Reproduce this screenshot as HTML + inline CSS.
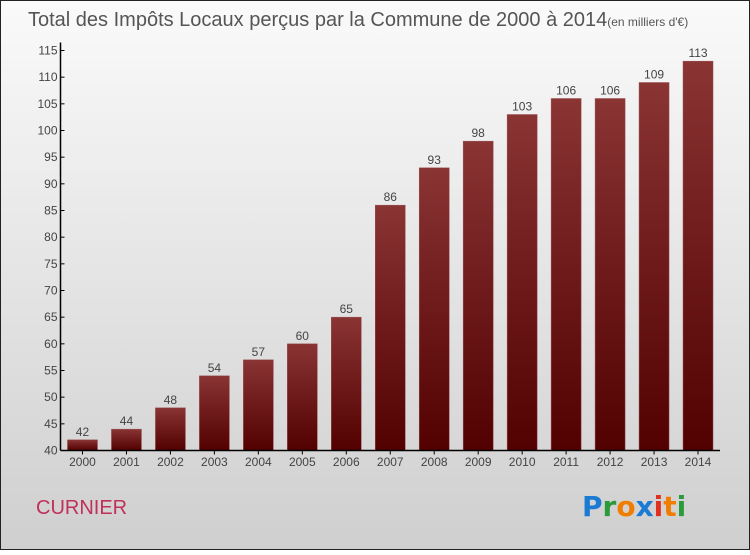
<!DOCTYPE html>
<html><head><meta charset="utf-8"><style>
body{margin:0;width:750px;height:550px;overflow:hidden;font-family:"Liberation Sans",sans-serif}
</style></head><body>
<svg width="750" height="550">
<defs>
<linearGradient id="bg" x1="0" y1="0" x2="0" y2="1"><stop offset="0" stop-color="#fafafa"/><stop offset="1" stop-color="#cfcfcf"/></linearGradient>
<linearGradient id="bar" x1="0" y1="0" x2="0" y2="1"><stop offset="0" stop-color="#8a3434"/><stop offset="1" stop-color="#520000"/></linearGradient>
</defs>
<rect x="0.5" y="0.5" width="749" height="549" fill="url(#bg)" stroke="#222"/>
<text x="28" y="26" font-size="20" fill="#555">Total des Impôts Locaux perçus par la Commune de 2000 à 2014<tspan font-size="12">(en milliers d'€)</tspan></text>
<g id="plot"></g>
<text x="36" y="514" font-size="20" fill="#c0305a">CURNIER</text>
<g font-size="28" font-weight="bold" font-family="DejaVu Sans,sans-serif">
<text x="582" y="516"><tspan fill="#1a7ad4">P</tspan><tspan fill="#2a9a3a">r</tspan><tspan fill="#f07d00">o</tspan><tspan fill="#1a7ad4">x</tspan><tspan fill="#e03020">i</tspan><tspan fill="#f07d00">t</tspan><tspan fill="#2a9a3a">i</tspan></text>
</g>
</svg>
<script>
const years=["2000","2001","2002","2003","2004","2005","2006","2007","2008","2009","2010","2011","2012","2013","2014"];
const values=[42,44,48,54,57,60,65,86,93,98,103,106,106,109,113];
const yTicks=[40,45,50,55,60,65,70,75,80,85,90,95,100,105,110,115];
const NS="http://www.w3.org/2000/svg";
const g=document.getElementById('plot');
const x0=60.5,x1=720,yb=450.5,yt=50.5,ymin=40,ymax=115;
const y=v=>yb-(v-ymin)/(ymax-ymin)*(yb-yt);
const step=(x1-x0)/years.length;
const xc=i=>x0+step*(i+0.5);
function el(t,a,txt){const e=document.createElementNS(NS,t);for(const k in a)e.setAttribute(k,a[k]);if(txt!=null)e.textContent=txt;g.appendChild(e);return e;}
values.forEach((v,i)=>{
 const r=el('rect',{x:xc(i)-15,y:y(v),width:30,height:yb-y(v),fill:'url(#bar)',stroke:'#9a5050','stroke-width':0.5});
 
 
 const t=el('text',{x:xc(i),y:y(v)-4,'text-anchor':'middle','font-size':12,fill:'#444'},String(v));
 
 
 const xl=el('text',{x:xc(i),y:466,'text-anchor':'middle','font-size':12,fill:'#444'},years[i]);
 
 
 el('line',{x1:xc(i),x2:xc(i),y1:yb,y2:yb+4,stroke:'#000'});
});
yTicks.forEach(v=>{
 el('line',{x1:x0,x2:x0+4,y1:y(v),y2:y(v),stroke:'#000'});
 const t=el('text',{x:x0-3,y:y(v)+4,'text-anchor':'end','font-size':12,fill:'#444'},String(v));
 
 
});
const ya=el('line',{x1:x0,x2:x0,y1:yt-8,y2:yb,stroke:'#000','stroke-width':1.5});


const xa=el('line',{x1:x0,x2:x1,y1:yb,y2:yb,stroke:'#000','stroke-width':1.5});


</script>
</body></html>
